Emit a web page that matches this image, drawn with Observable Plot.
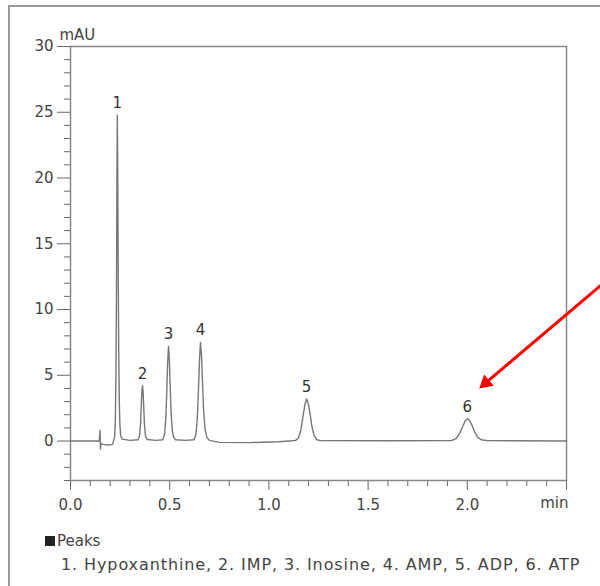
<!DOCTYPE html>
<html>
<head>
<meta charset="utf-8">
<script src="https://cdn.jsdelivr.net/npm/d3@7"></script>
<script src="https://cdn.jsdelivr.net/npm/@observablehq/plot@0.6"></script>
<style>
  html, body { margin: 0; padding: 0; background: #fff; }
  #wrap { position: relative; width: 600px; height: 586px; overflow: hidden; font-family: "DejaVu Sans", Verdana, sans-serif; color: #444; }
  #outer { position: absolute; left: 8px; top: 5px; width: 620px; height: 620px; border-left: 2px solid #999; border-top: 2px solid #999; }
  #chart { position: absolute; left: 0; top: 0; }
  #legend { position: absolute; left: 45px; top: 530px; font-size: 16px; line-height: 23px; color: #444; }
  #legend .head { font-size: 15px; }
  #legend .sq { display: inline-block; width: 10px; height: 10px; background: #222; margin-right: 2px; vertical-align: 0px; }
  #legend .items { padding-left: 16px; letter-spacing: 0.9px; }
</style>
</head>
<body>
<div id="wrap">
  <div id="outer"></div>
  <div id="chart"></div>
  <div id="legend"><div class="head"><span class="sq"></span>Peaks</div><div class="items" id="items"></div></div>
</div>
<script>
// Chromatogram trace (time in min, signal in mAU)
const times = [0, 0.10, 0.145, 0.149, 0.151, 0.154, 0.165, 0.19, 0.212,
  0.222, 0.226, 0.229, 0.232, 0.234, 0.236, 0.238, 0.240, 0.243, 0.246, 0.249, 0.253, 0.26, 0.30,
  0.340, 0.348, 0.353, 0.357, 0.360, 0.363, 0.366, 0.369, 0.373, 0.378, 0.386, 0.43,
  0.465, 0.474, 0.480, 0.485, 0.489, 0.494, 0.498, 0.502, 0.507, 0.513, 0.521, 0.53, 0.58,
  0.622, 0.632, 0.639, 0.645, 0.650, 0.655, 0.660, 0.665, 0.671, 0.678, 0.687, 0.70, 0.75, 0.9, 1.05, 1.12,
  1.135, 1.150, 1.162, 1.172, 1.182, 1.190, 1.198, 1.207, 1.217, 1.228, 1.242, 1.26, 1.6,
  1.92, 1.945, 1.962, 1.978, 1.990, 2.0, 2.010, 2.022, 2.037, 2.052, 2.07, 2.1, 2.5];
const signal = [0, 0, 0, 0.8, -0.6, -0.2, -0.25, -0.3, -0.25,
  0.3, 1.5, 5, 12, 20, 24.8, 21, 14, 7, 3, 1.2, 0.4, 0.15, 0.05,
  0.1, 0.4, 1.3, 2.8, 3.8, 4.2, 3.7, 2.6, 1.2, 0.4, 0.12, 0.05,
  0.1, 0.5, 1.6, 3.6, 5.7, 7.2, 6.3, 4.4, 2.2, 0.8, 0.25, 0.1, 0.05,
  0.1, 0.5, 1.7, 3.9, 6.1, 7.5, 6.6, 4.6, 2.3, 0.9, 0.3, 0.05, -0.1, -0.12, -0.05, 0.02,
  0.05, 0.25, 0.9, 1.9, 2.8, 3.2, 2.9, 2.1, 1.1, 0.4, 0.1, 0.03, 0.02,
  0.03, 0.2, 0.6, 1.15, 1.55, 1.7, 1.6, 1.25, 0.7, 0.3, 0.1, 0.03, 0];

// Peak labels
const peakNums = ["1", "2", "3", "4", "5", "6"];
const peakTimes = [0.236, 0.363, 0.494, 0.655, 1.19, 2.0];
const peakHeights = [24.8, 4.2, 7.2, 7.5, 3.2, 1.7];
const peakNames = ["Hypoxanthine", "IMP", "Inosine", "AMP", "ADP", "ATP"];

// Axes
const xLabels = [0, 0.5, 1.0, 1.5, 2.0];
const xEnd = [2.5];
const xMinor = [0.1,0.2,0.3,0.4,0.6,0.7,0.8,0.9,1.1,1.2,1.3,1.4,1.6,1.7,1.8,1.9,2.1,2.2,2.3,2.4];
const yMajor = [0, 5, 10, 15, 20, 25, 30];
const yMinor = [-3,-2,-1,1,2,3,4,6,7,8,9,11,12,13,14,16,17,18,19,21,22,23,24,26,27,28,29];
const xUnit = "min";
const yUnit = "mAU";

// Red annotation arrow (data units)
const arrowStart = [2.67, 11.8];
const arrowEnd = [2.06, 4.0];

const trace = times.map((t, i) => ({t, v: signal[i]}));
const peaks = peakNums.map((n, i) => ({n, t: peakTimes[i], h: peakHeights[i]}));

document.getElementById("items").textContent =
  peakNums.map((n, i) => `${n}. ${peakNames[i]}`).join(", ");

const ink = "#444";
const chart = Plot.plot({
  width: 600,
  height: 520,
  marginLeft: 70,
  marginRight: 34,
  marginTop: 46,
  marginBottom: 40,
  style: {fontFamily: '"DejaVu Sans", Verdana, sans-serif', fontSize: "15px", color: ink, background: "transparent"},
  x: {domain: [0, 2.5]},
  y: {domain: [-3, 30]},
  marks: [
    Plot.axisY(yMajor, {tickSize: 13, tickPadding: 4, stroke: "#666", fill: ink, label: null, tickFormat: d => d, fontSize: 15}),
    Plot.axisY(yMinor, {tickSize: 6, stroke: "#666", text: null, label: null}),
    Plot.axisX(xLabels, {tickSize: 10, tickPadding: 9, stroke: "#666", fill: ink, label: null, tickFormat: d3.format(".1f"), fontSize: 15}),
    Plot.axisX(xEnd, {tickSize: 10, stroke: "#666", text: null, label: null}),
    Plot.axisX(xMinor, {tickSize: 6, stroke: "#666", text: null, label: null}),
    Plot.text([xUnit], {x: 2.5, frameAnchor: "bottom", text: d => d, textAnchor: "end", dy: 27, dx: 2, fill: ink, fontSize: 15}),
    Plot.text([yUnit], {frameAnchor: "top-left", text: d => d, textAnchor: "start", dx: -11, dy: -17, fill: ink, fontSize: 15}),
    Plot.frame({stroke: "#888", strokeWidth: 1.5}),
    Plot.line(trace, {x: "t", y: "v", stroke: "#777", strokeWidth: 1.4, curve: "linear"}),
    Plot.text(peaks, {x: "t", y: "h", text: "n", dy: -12, fill: "#333", fontSize: 15}),
    Plot.arrow([0], {x1: () => arrowStart[0], y1: () => arrowStart[1], x2: () => arrowEnd[0], y2: () => arrowEnd[1],
      stroke: "#f00", strokeWidth: 3, headLength: 0, insetEnd: 9, clip: false}),
    Plot.dot([0], {x: () => arrowEnd[0], y: () => arrowEnd[1], symbol: "triangle", r: 5.5, fill: "#f00", stroke: "none",
      rotate: 229.4, dx: 6.5, dy: -5.6, clip: false})
  ]
});
document.getElementById("chart").appendChild(chart);
</script>
</body>
</html>
